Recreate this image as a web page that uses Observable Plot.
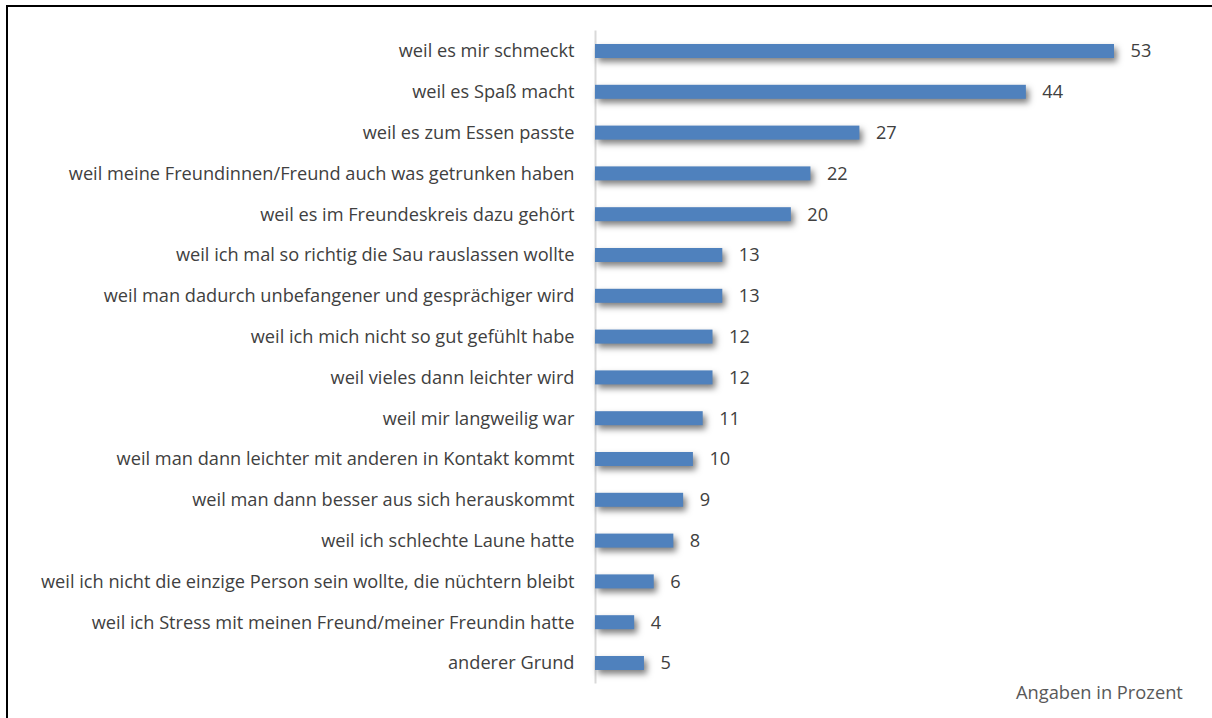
<!DOCTYPE html>
<html>
<head>
<meta charset="utf-8">
<script src="https://cdn.jsdelivr.net/npm/d3@7"></script>
<script src="https://cdn.jsdelivr.net/npm/@observablehq/plot@0.6"></script>
<style>
  html, body { margin: 0; padding: 0; background: #fff; }
  #wrap { position: relative; width: 1212px; height: 718px; overflow: hidden; }
  #frame { position: absolute; left: 6px; top: 5px; right: -10px; bottom: -10px;
           border-left: 2px solid #000; border-top: 2px solid #000; pointer-events: none; }
  #caption { position: absolute; left: 1016px; top: 679px; font-family: "Open Sans", sans-serif;
             font-size: 18.3px; color: #595959; white-space: nowrap; line-height: 26px; }
  #chart svg { display: block; }
</style>
</head>
<body>
<div id="wrap">
  <div id="chart"></div>
  <div id="frame"></div>
  <div id="caption"></div>
</div>
<script>
const categories = [
  "weil es mir schmeckt",
  "weil es Spaß macht",
  "weil es zum Essen passte",
  "weil meine Freundinnen/Freund auch was getrunken haben",
  "weil es im Freundeskreis dazu gehört",
  "weil ich mal so richtig die Sau rauslassen wollte",
  "weil man dadurch unbefangener und gesprächiger wird",
  "weil ich mich nicht so gut gefühlt habe",
  "weil vieles dann leichter wird",
  "weil mir langweilig war",
  "weil man dann leichter mit anderen in Kontakt kommt",
  "weil man dann besser aus sich herauskommt",
  "weil ich schlechte Laune hatte",
  "weil ich nicht die einzige Person sein wollte, die nüchtern bleibt",
  "weil ich Stress mit meinen Freund/meiner Freundin hatte",
  "anderer Grund"
];
const values = [53, 44, 27, 22, 20, 13, 13, 12, 12, 11, 10, 9, 8, 6, 4, 5];
const captionText = "Angaben in Prozent";

const data = categories.map((c, i) => ({category: c, value: values[i]}));

const chart = Plot.plot({
  width: 1212,
  height: 718,
  marginLeft: 595,
  marginRight: 98,
  marginTop: 30.6,
  marginBottom: 34.6,
  style: {fontFamily: "'Open Sans', sans-serif", fontSize: "18.2px", color: "#404040", background: "#fff"},
  x: {domain: [0, 53], axis: null},
  y: {domain: categories, padding: 0, round: false, axis: null},
  marks: [
    Plot.ruleX([0], {stroke: "#d9d9d9", strokeWidth: 2}),
    Plot.axisY({tickSize: 0, tickPadding: 21, label: null, fontSize: 18.2, fill: "#404040"}),
    Plot.barX(data, {x: "value", y: "category", fill: "#4f81bd", insetTop: 13.4, insetBottom: 13.4}),
    Plot.text(data, {x: "value", y: "category", text: d => String(d.value), textAnchor: "start", dx: 16, fill: "#404040", fontSize: 18.2})
  ]
});

document.getElementById("chart").appendChild(chart);
d3.select(chart).selectAll("g[aria-label='bar'] rect")
  .style("filter", "drop-shadow(3px 4px 3px rgba(0,0,0,0.5))");
document.getElementById("caption").textContent = captionText;
</script>
</body>
</html>
